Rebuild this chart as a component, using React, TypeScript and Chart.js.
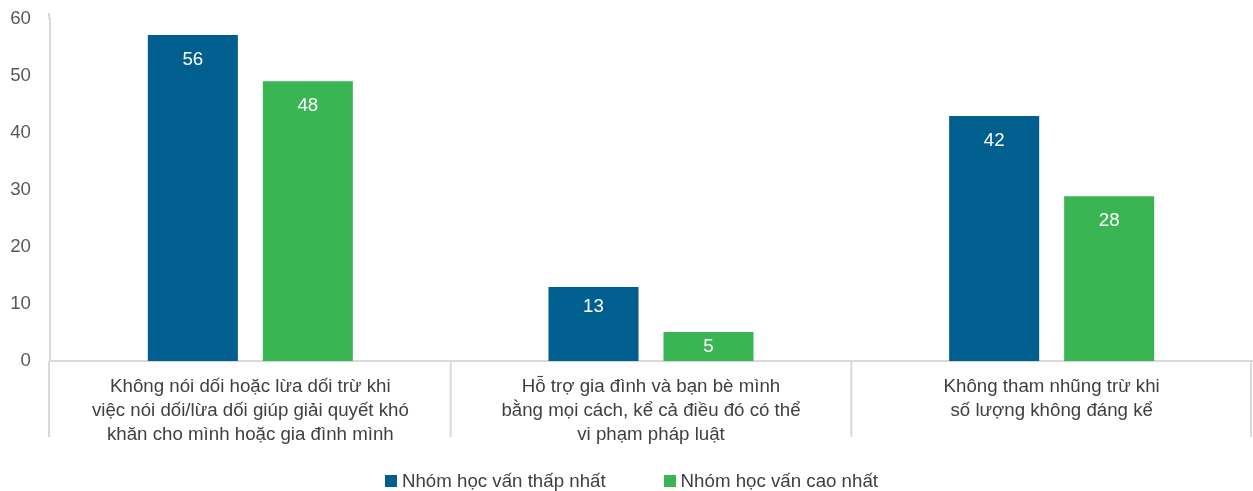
import React, { useEffect, useRef } from "react";
import { Chart, registerables } from "chart.js";

Chart.register(...registerables);

const categories: string[][] = [
  ["Không nói dối hoặc lừa dối trừ khi", "việc nói dối/lừa dối giúp giải quyết khó", "khăn cho mình hoặc gia đình mình"],
  ["Hỗ trợ gia đình và bạn bè mình", "bằng mọi cách, kể cả điều đó có thể", "vi phạm pháp luật"],
  ["Không tham nhũng trừ khi", "số lượng không đáng kể"],
];
const seriesNames = ["Nhóm học vấn thấp nhất", "Nhóm học vấn cao nhất"];
const lowestValues = [57.2, 13.0, 43.0];
const highestValues = [49.1, 5.1, 28.9];
const lowestLabels = ["56", "13", "42"];
const highestLabels = ["48", "5", "28"];
const yTicks = [0, 10, 20, 30, 40, 50, 60];

const BLUE = "#005f8f";
const GREEN = "#39b554";
const FONT = "'Liberation Sans', Arial, sans-serif";
const FS = 18.7;

const labelPlugin = {
  id: "barLabels",
  afterDatasetsDraw(chart: any) {
    const ctx = chart.ctx;
    const labelSets = [lowestLabels, highestLabels];
    ctx.save();
    ctx.fillStyle = "#ffffff";
    ctx.font = `${FS}px ${FONT}`;
    ctx.textAlign = "center";
    ctx.textBaseline = "middle";
    chart.data.datasets.forEach((_: any, di: number) => {
      const meta = chart.getDatasetMeta(di);
      meta.data.forEach((bar: any, i: number) => {
        const h = bar.base - bar.y;
        let y = bar.y + 25;
        if (h < 50) y = (bar.y + bar.base) / 2;
        else if (h < 100) y = bar.y + 20;
        ctx.fillText(labelSets[di][i], bar.x, y);
      });
    });
    ctx.restore();
  },
};

const separatorPlugin = {
  id: "separators",
  afterDraw(chart: any) {
    const xs = chart.scales.x;
    const n = categories.length;
    const ctx = chart.ctx;
    const top = chart.chartArea.bottom;
    ctx.save();
    ctx.strokeStyle = "#d9d9d9";
    ctx.lineWidth = 2;
    for (let i = 0; i <= n; i++) {
      let px = xs.left + (xs.width * i) / n;
      if (i === 0) px = xs.left - 1;
      if (i === n) px = xs.right - 1;
      ctx.beginPath();
      ctx.moveTo(px, top);
      ctx.lineTo(px, top + 76);
      ctx.stroke();
    }
    // small extension of the value axis line above the plot area
    ctx.beginPath();
    ctx.moveTo(xs.left - 1, chart.chartArea.top - 6);
    ctx.lineTo(xs.left - 1, chart.chartArea.top);
    ctx.stroke();
    ctx.restore();
  },
};

export default function App() {
  const ref = useRef<HTMLCanvasElement | null>(null);
  useEffect(() => {
    if (!ref.current) return;
    const chart = new Chart(ref.current, {
      type: "bar",
      data: {
        labels: categories,
        datasets: [
          { label: seriesNames[0], data: lowestValues, backgroundColor: BLUE, categoryPercentage: 0.574, barPercentage: 0.783 },
          { label: seriesNames[1], data: highestValues, backgroundColor: GREEN, categoryPercentage: 0.574, barPercentage: 0.783 },
        ],
      },
      options: {
        responsive: false,
        animation: false,
        layout: { padding: { top: 19, right: 1, left: 0, bottom: 0 } },
        plugins: { legend: { display: false }, tooltip: { enabled: false } },
        scales: {
          x: {
            grid: { display: false },
            border: { display: true, color: "#d9d9d9", width: 2 },
            ticks: {
              color: "#404040",
              font: { family: FONT, size: FS, lineHeight: 1.28 },
              padding: 6,
              maxRotation: 0,
              autoSkip: false,
            },
            afterFit: (s: any) => {
              s.height = 130;
            },
          },
          y: {
            min: 0,
            max: 60,
            grid: { display: false, drawTicks: false },
            border: { display: true, color: "#d9d9d9", width: 2 },
            afterBuildTicks: (s: any) => {
              s.ticks = yTicks.map((v) => ({ value: v }));
            },
            ticks: {
              color: "#595959",
              font: { family: FONT, size: FS },
              padding: 19,
            },
            afterFit: (s: any) => {
              s.width = 50;
              s.paddingTop = 0;
              s.paddingBottom = 0;
            },
          },
        },
      },
      plugins: [labelPlugin, separatorPlugin],
    });
    return () => chart.destroy();
  }, []);

  const legendItem = (name: string, color: string) => (
    <div style={{ display: "flex", alignItems: "center" }}>
      <span style={{ display: "inline-block", width: 12, height: 12, background: color, marginRight: 5 }} />
      <span>{name}</span>
    </div>
  );

  return (
    <div style={{ position: "fixed", left: 0, top: 0, width: 1253, height: 491, background: "#fff" }}>
      <canvas ref={ref} width={1253} height={491} style={{ position: "absolute", left: 0, top: 0 }} />
      <div
        style={{
          position: "absolute",
          left: 0,
          width: 1253,
          top: 469,
          height: 24,
          display: "flex",
          justifyContent: "center",
          alignItems: "center",
          gap: 58,
          fontFamily: FONT,
          fontSize: FS,
          color: "#404040",
          paddingLeft: 10,
          boxSizing: "border-box",
        }}
      >
        {legendItem(seriesNames[0], BLUE)}
        {legendItem(seriesNames[1], GREEN)}
      </div>
    </div>
  );
}
